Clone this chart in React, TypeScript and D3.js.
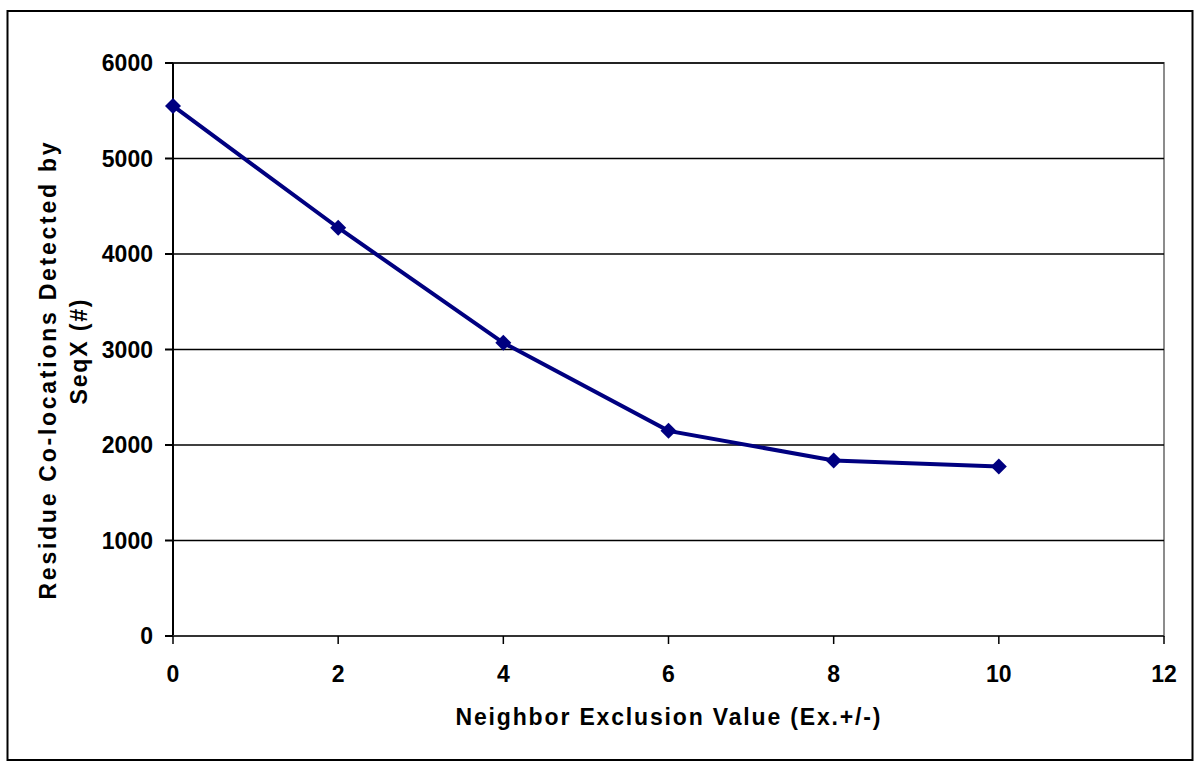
import React from 'react';
import * as d3 from 'd3';

const exclusionValues = [0, 2, 4, 6, 8, 10];
const colocationCounts = [5550, 4275, 3070, 2148, 1838, 1775];
const xTicks = [0, 2, 4, 6, 8, 10, 12];
const yTicks = [0, 1000, 2000, 3000, 4000, 5000, 6000];

const W = 1200;
const H = 768;
const FONT = 'Arial, "Liberation Sans", sans-serif';

export default function App() {
  const x = d3.scaleLinear().domain([0, 12]).range([173, 1164]);
  const y = d3.scaleLinear().domain([0, 6000]).range([636, 63]);

  const pts = exclusionValues.map((v, i) => [v, colocationCounts[i]] as [number, number]);
  const line = d3.line<[number, number]>()
    .x(d => x(d[0]))
    .y(d => y(d[1]));
  const diamond = 'M0,-8L8,0L0,8L-8,0Z';

  return (
    <svg width={W} height={H} style={{ position: 'fixed', left: 0, top: 0, background: '#fff' }}>
      <rect x={0} y={0} width={W} height={H} fill="#fff" />
      {/* outer frame */}
      <rect x={7.5} y={11} width={1185} height={749} fill="none" stroke="#000" strokeWidth={2} />

      {/* plot area border (right/top in gray) */}
      <rect x={x(0)} y={y(6000)} width={x(12) - x(0)} height={y(0) - y(6000)} fill="none" stroke="#8c8c8c" strokeWidth={2} />

      {/* gridlines */}
      {yTicks.filter(t => t > 0).map(t => (
        <line key={t} x1={x(0)} x2={x(12)} y1={y(t)} y2={y(t)} stroke="#000" strokeWidth={1.3} />
      ))}

      {/* y axis */}
      <line x1={x(0)} x2={x(0)} y1={y(6000)} y2={y(0)} stroke="#000" strokeWidth={2} />
      {yTicks.map(t => (
        <g key={t}>
          <line x1={x(0) - 8} x2={x(0)} y1={y(t)} y2={y(t)} stroke="#000" strokeWidth={2} />
          <text x={153} y={y(t)} dy="0.36em" textAnchor="end" fontFamily={FONT} fontWeight="bold" fontSize={23} fill="#000">
            {t}
          </text>
        </g>
      ))}

      {/* x axis */}
      <line x1={x(0)} x2={x(12)} y1={y(0)} y2={y(0)} stroke="#333" strokeWidth={2} />
      {xTicks.map(t => (
        <g key={t}>
          <line x1={x(t)} x2={x(t)} y1={y(0)} y2={y(0) + 8} stroke="#000" strokeWidth={1.5} />
          <text x={x(t)} y={674} dy="0.36em" textAnchor="middle" fontFamily={FONT} fontWeight="bold" fontSize={23} fill="#000">
            {t}
          </text>
        </g>
      ))}

      {/* series */}
      <path d={line(pts) || ''} fill="none" stroke="#000080" strokeWidth={4} />
      {pts.map((p, i) => (
        <path key={i} d={diamond} transform={`translate(${x(p[0])},${y(p[1])})`} fill="#000080" />
      ))}

      {/* axis titles */}
      <text x={668} y={717} dy="0.36em" textAnchor="middle" fontFamily={FONT} fontWeight="bold" fontSize={23}
        textLength={425} lengthAdjust="spacing" fill="#000">
        Neighbor Exclusion Value (Ex.+/-)
      </text>
      <g transform="translate(56,371) rotate(-90)">
        <text x={0} y={0} textAnchor="middle" fontFamily={FONT} fontWeight="bold" fontSize={23}
          textLength={457} lengthAdjust="spacing" fill="#000">
          Residue Co-locations Detected by
        </text>
      </g>
      <g transform="translate(87,352) rotate(-90)">
        <text x={0} y={0} textAnchor="middle" fontFamily={FONT} fontWeight="bold" fontSize={23}
          textLength={105} lengthAdjust="spacing" fill="#000">
          SeqX (#)
        </text>
      </g>
    </svg>
  );
}
